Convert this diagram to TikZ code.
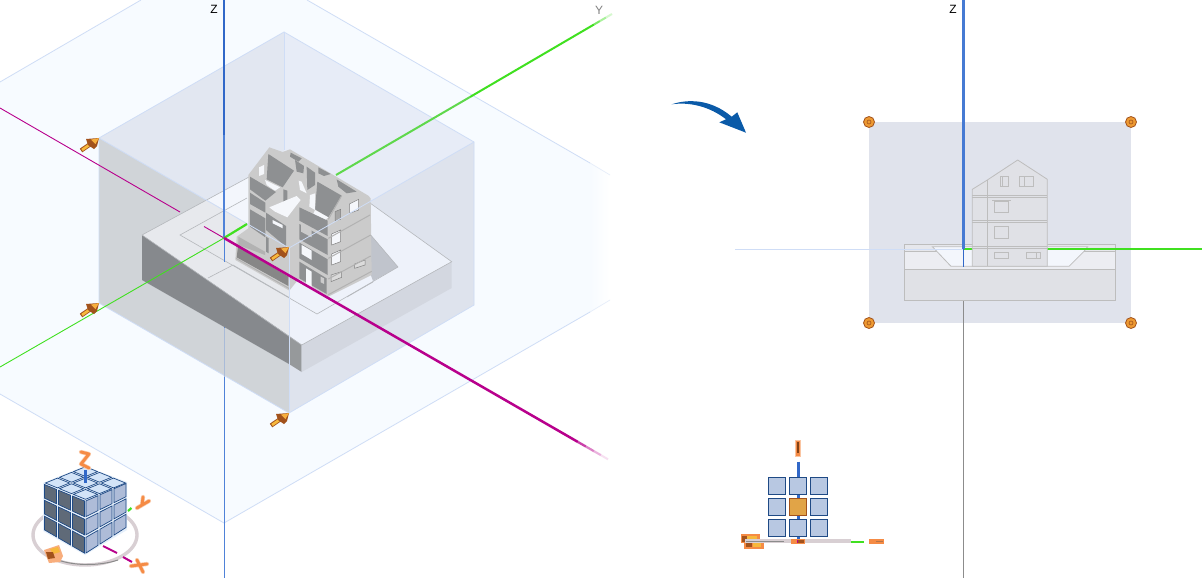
\documentclass[tikz,border=0pt]{standalone}
\usepackage{fontspec}
\setmainfont{Liberation Sans}
\definecolor{planeb}{HTML}{F7FBFF}
\definecolor{edgeb}{HTML}{CFDDF6}
\definecolor{wallL}{HTML}{E2E7F1}
\definecolor{wallR}{HTML}{E7ECF7}
\definecolor{faceL}{HTML}{D0D4D8}
\definecolor{faceR}{HTML}{DEE3ED}
\definecolor{siteline}{HTML}{B5B8BC}
\definecolor{sitetopL}{HTML}{E7E9ED}
\definecolor{sitetopR}{HTML}{EEF2FA}
\definecolor{sitewhite}{HTML}{F3F6FC}
\definecolor{sitewallD}{HTML}{86898D}
\definecolor{sitewallM}{HTML}{96999B}
\definecolor{sitewallR}{HTML}{D3D7E0}
\definecolor{sitesh}{HTML}{C0C4CC}
\definecolor{zblue}{HTML}{3168C8}
\definecolor{zblueL}{HTML}{4F82D8}
\definecolor{ygreen}{HTML}{40E020}
\definecolor{ygreenL}{HTML}{5FD84C}
\definecolor{xmag}{HTML}{B8008C}
\definecolor{bldL}{HTML}{CBCBCB}
\definecolor{bldD}{HTML}{8E9092}
\definecolor{bldW}{HTML}{F5F7FB}
\definecolor{gizline}{HTML}{1F4A85}
\definecolor{giztop}{HTML}{D3E4F8}
\definecolor{gizleft}{HTML}{5F6A78}
\definecolor{gizright}{HTML}{AEBCD8}
\definecolor{gizcell}{HTML}{B8C8E2}
\definecolor{gizback}{HTML}{E6F0FB}
\definecolor{gizorange}{HTML}{F58B45}
\definecolor{ringc}{HTML}{D8CFD3}
\definecolor{gripb}{HTML}{A2521C}
\definecolor{gripo}{HTML}{F7B83C}
\definecolor{handlef}{HTML}{EE9A32}
\definecolor{viewp}{HTML}{E0E3EC}
\definecolor{eline}{HTML}{BDBDBD}
\definecolor{elevA}{HTML}{E0E1E6}
\definecolor{elevB}{HTML}{ECEDF2}
\definecolor{elevC}{HTML}{E6E7EC}
\definecolor{arrowblue}{HTML}{0A5AA8}
\tikzset{
  edgeline/.style={draw=edgeb,line width=.8pt},
  sitestroke/.style={draw=siteline,line width=.6pt},
  dface/.style={fill=bldD},
  wface/.style={fill=bldW},
  bandline/.style={draw=black!30,line width=1pt},
  elevation/.style={draw=eline,line width=.8pt},
  gizsquare/.style={draw=gizline,line width=1pt,fill=gizcell},
  axislabel/.style={font=\fontsize{12}{13}\selectfont,inner sep=0pt},
  handle/.style={circle,minimum size=11pt,inner sep=0pt,draw=gripb,fill=handlef,line width=.8pt},
  letterglyph/.style={draw=gizorange,line width=2.8pt,line cap=round,line join=round},
  letterhalo/.style={draw=gizorange!45,line width=4.2pt,line cap=round,line join=round}
}
\newcommand{\gripicon}[2]{%
  \begin{scope}[shift={(#1,#2)}]
    \draw[gripb,line width=4.4pt] (-18,12.5) -- (-7,5);
    \draw[gripo,line width=2.6pt] (-17,12) -- (-7,5);
    \fill[gripb] (0,0) -- (-13,1) -- (-11,7) -- (-5,11) -- (-2,8) -- cycle;
    \fill[gripo!80!gizorange] (0,0) -- (-8,1.6) -- (-3.5,6) -- cycle;
  \end{scope}}
\newcommand{\cubeface}[8]{%
  \def\cellpt##1##2{({#1+(##1)*(#3)+(##2)*(#5)},{#2+(##1)*(#4)+(##2)*((#6)+(##1)*(#7))})}%
  \foreach \i in {0,1,2}{\foreach \j in {0,1,2}{%
    \filldraw[draw=gizline,line width=.7pt,fill=#8]
      \cellpt{\i+.07}{\j+.07} -- \cellpt{\i+.93}{\j+.07} -- \cellpt{\i+.93}{\j+.93} -- \cellpt{\i+.07}{\j+.93} -- cycle;
  }}}
\begin{document}
\begin{tikzpicture}[x=1pt,y=-1pt]
\useasboundingbox (0,0) rectangle (1202,578);
\fill[white] (0,0) rectangle (1202,578);
% ---------- left view: ground plane
\fill[planeb] (0,82) -- (141,0) -- (307,0) -- (590,163) -- (590,312) -- (224,523) -- (0,394) -- cycle;
\shade[left color=planeb,right color=white] (590,163) -- (610,175) -- (610,300) -- (590,312) -- cycle;
\draw[edgeline] (0,82) -- (141,0);
\draw[edgeline] (307,0) -- (590,163);
\draw[edgeb!50,line width=.7pt] (590,163) -- (610,175);
\draw[edgeline] (0,394) -- (224,523) -- (590,312);
\draw[edgeb!50,line width=.7pt] (590,312) -- (610,300);
% ---------- box
\fill[wallL] (99,138) -- (284,32) -- (284,197) -- (99,303) -- cycle;
\fill[wallR] (284,32) -- (474,142) -- (474,305) -- (284,197) -- cycle;
\fill[faceL] (99,138) -- (289,248) -- (289,413) -- (99,303) -- cycle;
\fill[faceR] (289,248) -- (474,142) -- (474,305) -- (289,413) -- cycle;
\draw[edgeline] (99,303) -- (99,138) -- (284,32) -- (474,142) -- (474,305) -- (289,413) -- (99,303);
\draw[edgeline] (284,32) -- (284,150);
% negative x axis and thin z axis, behind the site
\draw[xmag,line width=.9pt] (0,108) -- (180,212);
\draw[zblueL,line width=1pt] (224,238) -- (224,578);
\draw[faceL!70!zblueL,line width=1pt] (224,328) -- (224,377);
% ---------- site block
\fill[sitewhite] (207,200) -- (249,177) -- (330,195) -- (289,248) -- cycle;
\fill[sitetopL] (142,235) -- (207,200) -- (289,248) -- (289,336) -- cycle;
\fill[sitetopR] (289,248) -- (370,203) -- (451.7,261.7) -- (301.7,345) -- (289,336) -- cycle;
\fill[sitewallD] (142,235) -- (289,336) -- (289,364) -- (142,280) -- cycle;
\fill[sitewallM] (289,336) -- (301.7,345) -- (301.7,372) -- (289,364) -- cycle;
\fill[sitewallR] (301.7,345) -- (451.7,261.7) -- (451.7,288) -- (301.7,372) -- cycle;
\fill[sitesh] (369,233) -- (398,267) -- (373,281) -- (369,270) -- cycle;
\draw[sitestroke] (142,235) -- (249,177);
\draw[sitestroke] (247,198) -- (180,235) -- (317,314) -- (398,267) -- (369,233);
\draw[sitestroke] (370,203) -- (451.7,261.7) -- (301.7,345) -- (142,235);
\draw[sitestroke] (208,278) -- (233,265);
\draw[sitestroke] (347,297) -- (373,282);
\draw[sitestroke] (233,265) -- (290,298);
% thin axis pieces seen in the recess
\draw[xmag,line width=.9pt] (204,226.5) -- (224,238);
\draw[zblueL,line width=1pt] (224,238) -- (224,262);
% ---------- building
\begin{scope}[shift={(200,130)},scale=1/3]
  \fill[bldL] (145,135) -- (208,52) -- (248,66) -- (270,58) -- (505,197) -- (512,205) -- (515,435) -- (385,500) -- (296,447) -- (268,482) -- (106,390) -- (110,320) -- (145,295) -- cycle;
  % back interior
  \fill[dface] (205,72) -- (282,122) -- (248,172) -- (200,148) -- cycle;
  \fill[dface] (272,68) -- (305,85) -- (295,95) -- (270,80) -- cycle;
  \fill[dface] (285,90) -- (312,108) -- (310,130) -- (290,125) -- cycle;
  \fill[dface] (320,110) -- (345,128) -- (345,165) -- (322,180) -- cycle;
  \fill[dface] (355,112) -- (392,132) -- (372,138) -- (355,130) -- cycle;
  \fill[dface] (410,148) -- (470,185) -- (440,190) -- (415,170) -- cycle;
  \fill[wface] (177,112) -- (192,105) -- (192,132) -- (177,138) -- cycle;
  \fill[wface] (195,150) -- (240,172) -- (225,182) -- (200,165) -- cycle;
  \fill[wface] (296,152) -- (305,155) -- (320,190) -- (300,180) -- cycle;
  % left wing
  \fill[dface] (150,140) -- (228,186) -- (196,212) -- (150,178) -- cycle;
  \fill[dface] (150,188) -- (196,218) -- (196,248) -- (150,222) -- cycle;
  \fill[dface] (150,238) -- (196,265) -- (196,322) -- (150,290) -- cycle;
  \fill[dface] (250,178) -- (262,182) -- (262,208) -- (250,215) -- cycle;
  % middle wing
  \fill[dface] (198,248) -- (258,288) -- (258,350) -- (198,300) -- cycle;
  \fill[wface] (218,270) -- (248,285) -- (248,295) -- (218,280) -- cycle;
  \fill[wface] (208,232) -- (290,198) -- (302,210) -- (262,262) -- (225,245) -- cycle;
  \fill[dface] (198,320) -- (206,325) -- (206,370) -- (198,365) -- cycle;
  % right wing interior
  \fill[dface] (352,155) -- (425,197) -- (385,262) -- (345,238) -- cycle;
  \fill[wface] (330,195) -- (345,190) -- (345,240) -- (328,230) -- cycle;
  \fill[wface] (345,240) -- (385,262) -- (375,270) -- (340,252) -- cycle;
  % right wing left-facing rows
  \fill[dface] (298,232) -- (383,272) -- (383,318) -- (298,272) -- cycle;
  \fill[dface] (298,282) -- (383,328) -- (383,375) -- (298,328) -- cycle;
  \fill[dface] (298,338) -- (383,388) -- (383,435) -- (298,385) -- cycle;
  \fill[dface] (298,395) -- (380,445) -- (380,492) -- (298,445) -- cycle;
  \fill[bldL] (303,278) -- (335,298) -- (335,322) -- (303,305) -- cycle;
  \fill[wface] (305,345) -- (335,362) -- (335,390) -- (305,372) -- cycle;
  \fill[wface] (318,415) -- (335,425) -- (335,478) -- (318,468) -- cycle;
  \fill[bldL] (362,440) -- (372,445) -- (372,462) -- (362,457) -- cycle;
  % right face windows
  \filldraw[fill=bldW,draw=black!50,line width=.5pt] (395,312) -- (422,300) -- (422,335) -- (395,345) -- cycle;
  \filldraw[fill=bldW,draw=black!50,line width=.5pt] (395,372) -- (422,360) -- (422,395) -- (395,405) -- cycle;
  \filldraw[fill=bldL!70,draw=black!50,line width=.5pt] (393,435) -- (425,425) -- (425,442) -- (393,455) -- cycle;
  \filldraw[fill=bldL!70,draw=black!50,line width=.5pt] (464,402) -- (495,390) -- (495,405) -- (464,415) -- cycle;
  \filldraw[fill=black!35,draw=black!50,line width=.5pt] (405,245) -- (422,238) -- (422,268) -- (405,272) -- cycle;
  \filldraw[fill=bldW,draw=black!50,line width=.5pt] (448,222) -- (476,208) -- (476,240) -- (448,250) -- cycle;
  \draw[bandline] (385,268) -- (425,197);
  \draw[bandline] (385,325) -- (510,255);
  \draw[bandline] (385,385) -- (512,315);
  \draw[bandline] (385,447) -- (512,378);
  \draw[bandline] (385,494) -- (515,424);
  % lower front wall
  \fill[black!30] (115,320) -- (195,365) -- (195,375) -- (115,345) -- cycle;
  \fill[black!47] (114,350) -- (265,440) -- (265,468) -- (110,382) -- cycle;
  \draw[bandline] (108,385) -- (268,476);
\end{scope}
% ---------- translucent edges over the site
\draw[edgeline] (99,138) -- (289,248) -- (474,142);
\draw[edgeline] (289,248) -- (289,413);
% ---------- axes, left view
\draw[zblue,line width=2.6pt] (224,0) -- (224,135);
\draw[zblueL,line width=2.6pt] (224,135) -- (224,238);
\draw[ygreen,line width=.9pt] (224,238) -- (0,367);
\draw[ygreen,line width=2.2pt] (224,238) -- (247,224);
\draw[ygreenL,line width=2pt] (336,175) -- (470,97);
\draw[ygreen,line width=2pt] (470,97) -- (594,24.5);
\draw[ygreen!70,line width=2pt] (594,24.5) -- (600,21);
\draw[ygreen!45,line width=2pt] (600,21) -- (606,17.5);
\draw[ygreen!22,line width=2pt] (606,17.5) -- (612,14);
\draw[xmag,line width=2.5pt] (224,238) -- (578,442);
\draw[xmag!75,line width=2.3pt] (578,442) -- (586,446.6);
\draw[xmag!50,line width=2.2pt] (586,446.6) -- (594,451.2);
\draw[xmag!30,line width=2.1pt] (594,451.2) -- (601,455.2);
\draw[xmag!12,line width=2pt] (601,455.2) -- (608,459.3);
\node[axislabel] (zleft) at (214,9) {Z};
\node[axislabel,text=black!50] (yleft) at (599,10) {Y};
\gripicon{99}{138}
\gripicon{99}{303}
\gripicon{289}{247}
\gripicon{289}{413}
% ---------- left gizmo
\draw[ringc,line width=3.4pt] (85,535) ellipse (52 and 30);
\draw[black!45,line width=1pt] (58,560) .. controls (75,566) and (100,566) .. (118,560);
\fill[gizback] (43,483) -- (85,466) -- (127,482) -- (127,530) -- (85,555) -- (43,531) -- cycle;
\cubeface{43.5}{483}{14}{5.7}{0}{15.8}{.83}{gizleft}
\cubeface{85}{500}{14}{-6}{0}{18.3}{-1}{gizright}
\cubeface{43.5}{483}{14}{5.7}{14}{-5.7}{0}{giztop}
\draw[zblue,line width=2.4pt] (85.5,470) -- (85.5,483);
\draw[ygreen,line width=2.2pt] (128,511) -- (131.5,508);
\draw[xmag,line width=2pt] (103,546) -- (117,553);
\draw[xmag,line width=2pt] (123,557) -- (132,562);
\draw[letterhalo] (81,452) -- (89,454) -- (81,464) -- (89,468);
\draw[letterglyph] (81,452) -- (89,454) -- (81,464) -- (89,468);
\draw[letterhalo] (137,508) -- (149,501) (143,497) -- (142,505);
\draw[letterglyph] (137,508) -- (149,501) (143,497) -- (142,505);
\draw[letterhalo] (131,566) -- (147,564) (137,560) -- (143,572);
\draw[letterglyph] (131,566) -- (147,564) (137,560) -- (143,572);
\fill[gizorange!70] (44,550) -- (59,545) -- (63,556) -- (60,562) -- (49,563) -- cycle;
\fill[gripo] (50,549) -- (58,547) -- (60,552) -- (53,554) -- cycle;
\fill[gripb] (46,552) -- (53,552) -- (55,558) -- (48,559) -- cycle;
% ---------- curved arrow
\fill[arrowblue] (671.7,104.3) .. controls (686.7,99.3) and (710,98.3) .. (731.7,116.7) -- (737.3,112.3) -- (746,132.7) -- (719.3,122.3) -- (726,119.3) .. controls (710,106.7) and (690,101.7) .. cycle;
% ---------- right view
\fill[viewp] (869,122) rectangle (1131,323);
\draw[edgeb,line width=.8pt] (735,249.6) -- (1202,249.6);
\draw[black!45,line width=1pt] (963.5,249) -- (963.5,578);
\begin{scope}[shift={(890,150)},scale=1/3]
  \filldraw[elevation,fill=elevA] (43,283) rectangle (677,452);
  \filldraw[elevation,fill=elevB] (43,305) rectangle (677,357);
  \filldraw[elevation,fill=elevC] (43,283) rectangle (677,305);
  \filldraw[elevation,fill=sitewhite] (127,290) -- (593,290) -- (583,303) -- (537,349) -- (183,349) -- cycle;
  \draw[edgeb,line width=.8pt] (43,298) -- (247,298);
  \draw[ygreen,line width=1.8pt] (222,297) -- (250,297);
  \draw[ygreen,line width=1.8pt] (472,297) -- (936,297);
  \filldraw[elevation,fill=elevA] (247,349) -- (247,118) -- (292,90) -- (383,30) -- (472,88) -- (472,349) -- cycle;
  \draw[elevation] (292,90) -- (292,349);
  \draw[elevation] (247,136) -- (472,136) (247,142) -- (472,142);
  \draw[elevation] (247,210) -- (472,210) (247,216) -- (472,216);
  \draw[elevation] (247,290) -- (472,290) (247,296) -- (472,296);
  \draw[elevation] (331,79) rectangle (356,109) (337,79) -- (337,109);
  \draw[elevation] (388,79) rectangle (431,109) (402,79) -- (402,109);
  \draw[elevation] (313,155) rectangle (356,187);
  \draw[eline,line width=1.4pt] (306,152) -- (362,152);
  \draw[elevation] (313,229) rectangle (356,265);
  \draw[elevation] (313,307) rectangle (356,325);
  \draw[elevation] (409,307) rectangle (452,325) (439,307) -- (439,325);
\end{scope}
\draw[zblueL!70!zblue,line width=2.8pt] (963.5,0) -- (963.5,249);
\draw[zblue,line width=1pt] (963.5,249) -- (963.5,267);
\node[axislabel] (zright) at (953,9) {Z};
\node[handle] (h1) at (869,122) {};
\node[handle] (h2) at (1131,122) {};
\node[handle] (h3) at (869,323) {};
\node[handle] (h4) at (1131,323) {};
\foreach \h in {h1,h2,h3,h4}{\draw[gripb,line width=.6pt] (\h.center) circle (2);}
% ---------- right gizmo
\begin{scope}[shift={(730,430)},scale=1/3]
  \draw[zblue,line width=2.4pt] (205,95) -- (205,330);
  \foreach \cx in {115,178,241}{\foreach \cy in {142,205,268}{
    \draw[gizsquare] (\cx,\cy) rectangle ++(52,52);}}
  \filldraw[draw=gripb,line width=1pt,fill=gripo!70!gripb!90!white] (178,205) rectangle ++(52,52);
  \fill[gizorange!50] (196,30) rectangle (212,80);
  \fill[gizorange] (199,34) rectangle (209,78);
  \fill[gripb!80!black] (201,37) rectangle (207,68);
  \fill[gizorange] (32,312) rectangle (90,340);
  \fill[gizorange] (42,335) rectangle (101,356);
  \fill[gripo] (52,318) rectangle (82,336);
  \fill[gripo] (68,336) rectangle (92,352);
  \fill[gripb] (36,318) rectangle (52,336);
  \fill[gripb] (47,340) rectangle (66,352);
  \draw[ringc,line width=4pt] (45,334) -- (362,334);
  \draw[black!45,line width=1pt] (48,334) -- (162,334);
  \draw[ygreen,line width=2.2pt] (362,335) -- (402,335);
  \fill[gizorange] (182,328) rectangle (226,342);
  \fill[gripb] (205,331) rectangle (222,338);
  \draw[xmag,line width=1pt] (203,329) -- (203,339);
  \fill[gizorange] (417,328) rectangle (463,342);
  \fill[gripb!80] (438,332) rectangle (460,337);
\end{scope}
\end{tikzpicture}
\end{document}
